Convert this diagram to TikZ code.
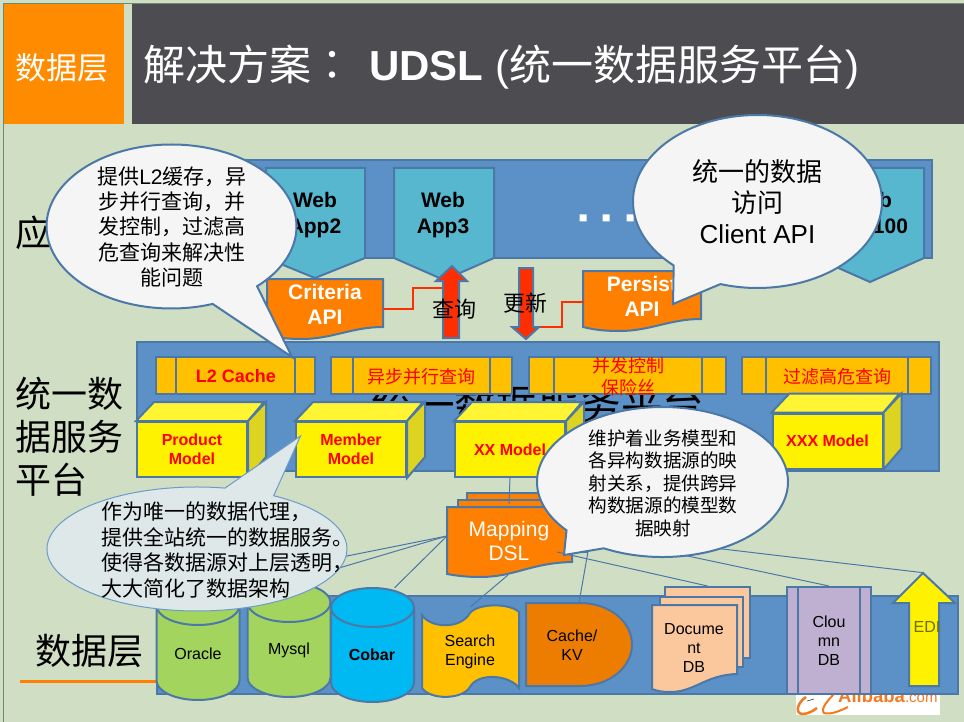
\documentclass[tikz,border=0pt]{standalone}
\usepackage{fontspec}
\setmainfont{Liberation Sans}
\newfontfamily\cjk{Noto Sans CJK SC}
\newfontfamily\cjktc{Noto Sans CJK TC}
\usetikzlibrary{shapes.callouts}
\newcommand{\fsz}[2]{\fontsize{#1}{#2}\selectfont}
\newcommand{\wcomma}{\char"FF0C\relax}
\newcommand{\wcolon}{\char"FF1A\relax}
\definecolor{pagebg}{HTML}{D0DEC4}
\definecolor{framegreen}{HTML}{6E8A6E}
\definecolor{layerblue}{HTML}{5B91C6}
\definecolor{edgeblue}{HTML}{4C78A8}
\definecolor{webblue}{HTML}{57B7CF}
\definecolor{baramber}{HTML}{FFC000}
\definecolor{docorange}{HTML}{FF7F00}
\definecolor{titleorange}{HTML}{FF8C00}
\definecolor{titlegray}{HTML}{4D4C51}
\definecolor{dbgreen}{HTML}{A2D45E}
\definecolor{cobarblue}{HTML}{00B9F2}
\definecolor{cacheorange}{HTML}{ED7D00}
\definecolor{docpeach}{HTML}{FBC89E}
\definecolor{columnlilac}{HTML}{BFB0D2}
\definecolor{flowred}{HTML}{FF2E00}
\definecolor{notefill}{HTML}{F5F5F5}
\definecolor{palefill}{HTML}{DEE8E8}
\definecolor{paleline}{HTML}{6C9BCB}
\definecolor{logoorange}{HTML}{F47A20}
\definecolor{ediolive}{HTML}{6B6B10}
\begin{document}
\begin{tikzpicture}[
    x = 1pt, y = -1pt,
    edge/.style = {draw = edgeblue, line width = 2pt},
    layer/.style = {edge, fill = layerblue},
    webbox/.style = {edge, fill = webblue},
    webtext/.style = {font = \fsz{21}{26}\bfseries, align = center, inner sep = 0pt},
    apibox/.style = {edge, fill = docorange},
    apitext/.style = {font = \fsz{21}{25}\bfseries, text = white, align = center, inner sep = 0pt, minimum width = 116pt},
    barbox/.style = {edge, fill = baramber},
    bartext/.style = {font = \fsz{18}{22}\cjk, text = red, align = center, inner sep = 0pt},
    model/.style = {edge, fill = yellow, minimum width = 110pt, minimum height = 55pt, inner sep = 0pt,
        font = \fsz{16}{19}\bfseries, text = red, align = center},
    modeltop/.style = {edge, fill = yellow!80!white},
    modelside/.style = {edge, fill = yellow!85!black},
    flowarrow/.style = {edge, fill = flowred},
    redline/.style = {draw = flowred, line width = 2pt},
    maplink/.style = {draw = edgeblue, line width = 1pt},
    note/.style = {edge, fill = notefill, ellipse callout, inner sep = 0pt},
    notetext/.style = {font = \fsz{21}{25.4}\cjk, align = center, inner sep = 0pt},
    sidelabel/.style = {font = \fsz{36}{43}\cjk, align = left, anchor = west, inner sep = 0pt},
    dbtext/.style = {font = \fsz{16}{19}, align = center, inner sep = 0pt},
    dbsite/.style = {inner sep = 0pt, minimum width = 83pt, minimum height = 114pt},
    docsheet/.style = {edge, fill = docpeach}
]
\useasboundingbox (0, 0) rectangle (964, 722);
\fill[pagebg] (0, 0) rectangle (964, 722);
\draw[framegreen, line width = 1pt] (3.5, 722) -- (3.5, 3.5) -- (964, 3.5);

% Title bar
\node[fill = titleorange, minimum width = 120pt, minimum height = 120pt, inner sep = 0pt] (tier) at (64, 64) {};
\node[text = white, font = \fsz{31}{31}\cjk, inner sep = 0pt] (tiertext) at (62, 68) {数据层};
\node[fill = titlegray, minimum width = 832pt, minimum height = 120pt, inner sep = 0pt] (titlebar) at (548, 64) {};
\node[text = white, font = \fsz{42}{42}, anchor = base west, inner sep = 0pt] (title) at (143, 81)
    {{\cjk 解决方案}{\cjktc \wcolon}\hspace{16pt}{\bfseries UDSL} ({\cjk 统一数据服务平台})};

% Application layer
\draw[layer] (240, 160) rectangle (932, 258);
\node[sidelabel] (applabel) at (15, 233) {应};
\draw[webbox] (266, 168) -- (365, 168) -- (365, 258) -- (315, 278) -- (266, 258) -- cycle;
\node[webtext] (webtwo) at (315, 215) {Web\\App2};
\draw[webbox] (394, 168) -- (494, 168) -- (494, 258) -- (444, 280) -- (394, 258) -- cycle;
\node[webtext] (webthree) at (443, 215) {Web\\App3};
\draw[webbox] (816, 168) -- (924, 168) -- (924, 258) -- (870, 282) -- (816, 258) -- cycle;
\node[webtext] (webhundred) at (870, 215) {Web\\App100};
\fill[white] (579.5, 214.5) rectangle +(7, 7) (602.5, 214.5) rectangle +(7, 7) (626.5, 214.5) rectangle +(7, 7);

% Client API pieces
\draw[apibox] (267, 279) -- (383, 279) -- (383, 327) .. controls (352, 327) and (332, 339) .. (302, 339)
    .. controls (288, 339) and (277, 338) .. (267, 335) -- cycle;
\node[apitext] (criteria) at (325, 304.5) {Criteria\\API};
\draw[apibox] (583, 271) -- (701, 271) -- (701, 319) .. controls (670, 319) and (650, 331) .. (620, 331)
    .. controls (606, 331) and (595, 330) .. (583, 327) -- cycle;
\node[apitext] (persist) at (642, 296) {Persist\\API};

% Read and write arrows
\coordinate (querysite) at (443, 288);
\coordinate (updatesite) at (539, 327);
\draw[redline] ([yshift = -4.5pt]criteria.east) -- ++(30, 0) |- (querysite);
\draw[redline] ([yshift = -6pt]persist.west) -- ++(-22, 0) |- (updatesite);
\draw[flowarrow] (452, 266) -- (467, 281) -- (459, 281) -- (459, 338) -- (443, 338) -- (443, 281) -- (436, 281) -- cycle;
\draw[flowarrow] (526, 339) -- (539, 327) -- (533, 327) -- (533, 268) -- (519, 268) -- (519, 327) -- (512, 327) -- cycle;
\node[font = \fsz{22}{22}\cjk, inner sep = 0pt] (querytext) at (454.5, 309) {查询};
\node[font = \fsz{22}{22}\cjk, inner sep = 0pt] (updatetext) at (525.5, 303) {更新};

% Data service layer
\draw[layer] (137, 342) rectangle (939, 471);
\node[sidelabel] (servicelabel) at (15, 437) {统一数\\据服务\\平台};
\node[font = \fsz{41.6}{42}\cjk, inner sep = 0pt] (servicetext) at (538, 405) {统一数据服务平台};
\foreach \xa/\xb/\xc/\xd in {156/176/295/315, 331/353/490/512, 529/554/702/726, 742/766/908/931} {
    \draw[barbox] (\xa, 357) rectangle (\xd, 394);
    \draw[barbox] (\xb, 357) -- (\xb, 394) (\xc, 357) -- (\xc, 394);
}
\node[bartext, font = \fsz{18}{22}\bfseries] (cachebar) at (236, 376) {L2 Cache};
\node[bartext] (asyncbar) at (421, 377) {异步并行查询};
\node[bartext] (fusebar) at (628, 377) {并发控制\\保险丝};
\node[bartext] (filterbar) at (837, 377) {过滤高危查询};

% Domain models
\foreach \mx/\my/\mn/\mt in {192/449.5/product/{Product\\Model}, 351/449.5/member/{Member\\Model},
    510/449.5/xxmodel/{XX Model}, 827.5/441/xxxmodel/{XXX Model}} {
    \node[model] (\mn) at (\mx, \my) {\mt};
    \draw[modeltop] (\mn.north west) -- ++(18, -19) -- ++(110, 0) -- (\mn.north east) -- cycle;
    \draw[modelside] (\mn.north east) -- ++(18, -19) -- ++(0, 55) -- (\mn.south east) -- cycle;
}

% Data layer
\fill[white] (796, 690) rectangle (940, 715);
\node[text = logoorange, font = \fsz{18.5}{18}\bfseries, anchor = base west, inner sep = 0pt] (logo) at (838, 702)
    {Alibaba{\mdseries\fontsize{15}{18}\selectfont .com}};
\draw[logoorange, line width = 2.5pt] (806, 697) .. controls (797, 703) and (795, 713) .. (802, 714) .. controls (808, 714) and (813, 711) .. (817, 708);
\draw[logoorange, line width = 2pt] (835, 693) .. controls (828, 700) and (820, 709) .. (824, 713) .. controls (830, 715) and (840, 711) .. (848, 707);
\draw[black!70, line width = .7pt] (807, 701) -- (814, 699);
\draw[layer] (157, 596) rectangle (958, 694);
\draw[docorange, line width = 3pt] (20, 681) -- (157, 681);
\node[sidelabel] (datalabel) at (35, 651) {数据层};

% Relational stores
\foreach \cx/\cy/\cf/\cn in {198/605.5/dbgreen/oracle, 289/602.5/dbgreen/mysql, 372.5/607.5/cobarblue/cobar} {
    \node[dbsite] (\cn) at (\cx, \cy + 37.5) {};
    \draw[edge, fill = \cf] (\cx - 41.5, \cy) arc[start angle = 180, end angle = 0, x radius = 41.5pt, y radius = 19.5pt]
        -- (\cx + 41.5, \cy + 75) arc[start angle = 0, end angle = -180, x radius = 41.5pt, y radius = 19.5pt] -- cycle;
    \draw[edge] (\cx - 41.5, \cy) arc[start angle = 180, end angle = 360, x radius = 41.5pt, y radius = 19.5pt];
}
\node[dbtext] (oracletext) at (198, 654) {Oracle};
\node[dbtext] (mysqltext) at (289, 650) {Mysql};
\node[dbtext, font = \fsz{16}{19}\bfseries] (cobartext) at (372, 655) {Cobar};

% Other stores
\node[inner sep = 0pt, minimum width = 97pt, minimum height = 89pt] (search) at (470.5, 651.5) {};
\draw[edge, fill = baramber] (422, 615) .. controls (430, 628) and (460, 630) .. (470, 613)
    .. controls (478, 603) and (510, 603) .. (519, 612) -- (519, 688)
    .. controls (510, 675) and (478, 672) .. (470, 687) .. controls (462, 700) and (430, 700) .. (422, 688) -- cycle;
\node[dbtext] (searchtext) at (470, 651.5) {Search\\Engine};
\node[inner sep = 0pt, minimum width = 106pt, minimum height = 83pt] (cache) at (579, 644.5) {};
\draw[edge, fill = cacheorange] (526, 603) -- (580, 603) .. controls (610, 603) and (632, 622) .. (632, 644.5)
    .. controls (632, 667) and (610, 686) .. (580, 686) -- (526, 686) -- cycle;
\node[dbtext] (cachetext) at (572, 645.5) {Cache/\\KV};
\node[docsheet, inner sep = 0pt, minimum width = 85pt, minimum height = 71pt] (docback) at (707.5, 622.5) {};
\node[docsheet, inner sep = 0pt, minimum width = 83pt, minimum height = 70pt] (docmid) at (701.5, 632) {};
\draw[docsheet] (652, 605) -- (737, 605) -- (737, 674) .. controls (705, 675) and (695, 692) .. (670, 692)
    .. controls (662, 692) and (657, 691) .. (652, 689) -- cycle;
\node[dbtext] (doctext) at (694, 647.5) {Docume\\nt\\DB};
\node[edge, fill = columnlilac, inner sep = 0pt, minimum width = 84pt, minimum height = 107pt] (column) at (829, 640.5) {};
\draw[edge] (798, 587) -- (798, 694) (860, 587) -- (860, 694);
\node[dbtext] (columntext) at (829, 641) {Clou\\mn\\DB};
\node[inner sep = 0pt, minimum width = 62pt, minimum height = 113pt] (edi) at (924, 629.5) {};
\draw[flowarrow, fill = yellow] (923, 573) -- (955, 603) -- (939, 603) -- (939, 686) -- (909, 686) -- (909, 603) -- (893, 603) -- cycle;
\node[dbtext, text = ediolive] (editext) at (927, 627) {EDI};

% Mapping DSL
\draw[apibox] (467, 493) rectangle (587, 552);
\draw[apibox] (458, 500) rectangle (579, 552);
\draw[apibox] (447, 507) -- (572, 507) -- (572, 562) .. controls (530, 563) and (515, 577) .. (480, 577)
    .. controls (468, 577) and (458, 576) .. (447, 574) -- cycle;
\node[text = white, font = \fsz{21}{24}, align = center, inner sep = 0pt] (mapping) at (509, 541) {Mapping\\DSL};

% Links from the mapping to models and stores
\coordinate (mapleft) at (447, 536);
\coordinate (mapbottom) at (508, 575);
\coordinate (mapdoc) at (557, 552);
\coordinate (mapcache) at (590, 540);
\coordinate (mapright) at (570, 531);
\draw[maplink] (xxmodel.south) -- ([yshift = 17pt]mapping.north);
\draw[maplink] (mapleft) -- (oracle.north);
\draw[maplink] (mapleft) -- (mysql.north);
\draw[maplink] (mapleft) -- ([xshift = 22pt]cobar.north);
\draw[maplink] (mapbottom) -- (search.north);
\draw[maplink] (mapcache) -- (cache.north);
\draw[maplink] (mapdoc) -- (docback.north);
\draw[maplink] (mapright) -- (column.north);
\draw[maplink] (mapright) -- (edi.north);

% Callouts
\node[note, minimum width = 250pt, minimum height = 164pt, callout absolute pointer = {(292, 357)},
    callout pointer arc = 24] (l2note) at (171.5, 226.5) {};
\node[notetext] (l2text) at (172, 227) {提供{\rmfamily L2}缓存\wcomma 异\\步并行查询\wcomma 并\\发控制\wcomma 过滤高\\危查询来解决性\\能问题};
\node[note, minimum width = 249pt, minimum height = 173pt, callout absolute pointer = {(673, 304)},
    callout pointer arc = 25] (apinote) at (757.5, 201.5) {};
\node[notetext, font = \fsz{26}{31}\cjk] (apitextblock) at (757.5, 202) {统一的数据\\访问\\{\rmfamily Client API}};
\node[note, minimum width = 251pt, minimum height = 150pt, callout absolute pointer = {(564, 555)},
    callout pointer arc = 22] (mapnote) at (662.5, 482) {};
\node[notetext, font = \fsz{18.6}{22.5}\cjk] (maptext) at (663, 483) {维护着业务模型和\\各异构数据源的映\\射关系\wcomma 提供跨异\\构数据源的模型数\\据映射};
\node[note, draw = paleline, line width = 1pt, fill = palefill, minimum width = 300pt, minimum height = 124pt,
    callout absolute pointer = {(300.5, 436)}, callout pointer arc = 20] (proxynote) at (197, 549) {};
\node[notetext, anchor = west, align = left] (proxytext) at (101, 550) {作为唯一的数据代理\wcomma \\提供全站统一的数据服务。\\使得各数据源对上层透明\wcomma \\大大简化了数据架构};

\end{tikzpicture}
\end{document}
